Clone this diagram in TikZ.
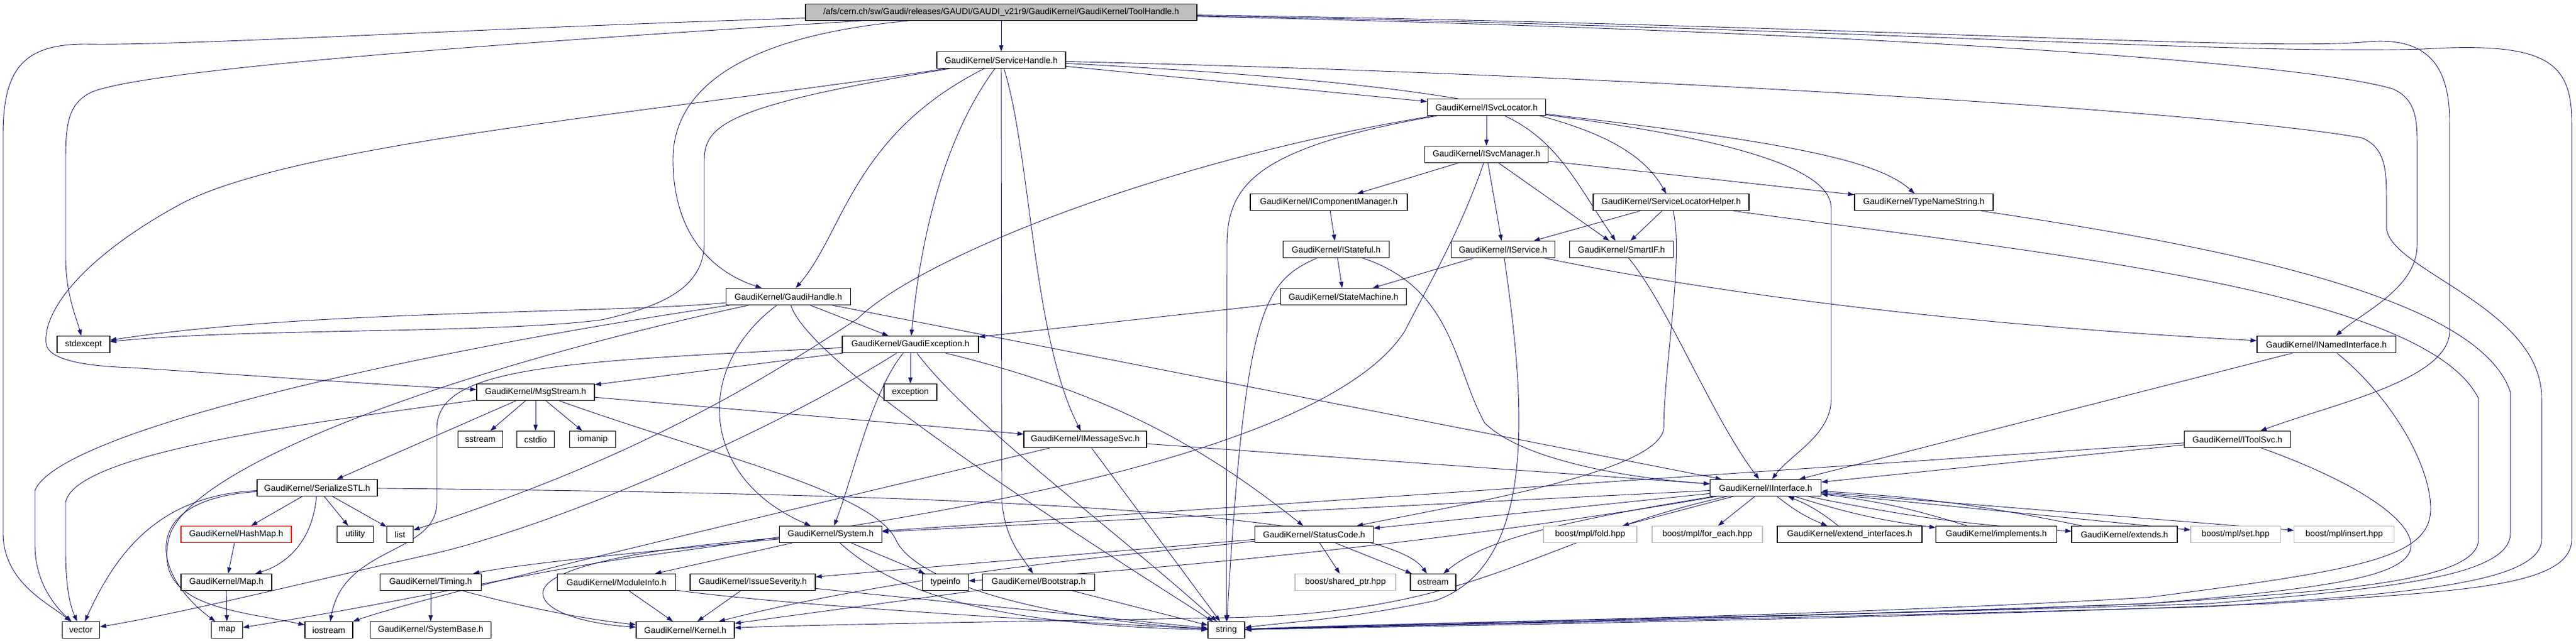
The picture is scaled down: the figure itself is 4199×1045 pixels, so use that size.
\documentclass[tikz,border=0pt]{standalone}
\usepackage{fontspec}
\setmainfont{Liberation Sans}
\usetikzlibrary{arrows.meta}
\definecolor{edgeblue}{RGB}{25,25,112}
\definecolor{boxgray}{RGB}{191,191,191}
\pgfdeclarelayer{bg}
\pgfdeclarelayer{edges}
\pgfsetlayers{bg,edges,main}

\begin{document}
\begin{tikzpicture}[x=1pt,y=-1pt,
  hdr/.style={draw=black, line width=1.1pt, fill=white, minimum width=#1pt,
    minimum height=27pt, inner sep=0pt, font=\fontsize{14}{16}\selectfont},
  focus/.style={hdr=#1, fill=boxgray},
  sysinc/.style={hdr=#1, draw=boxgray},
  missing/.style={hdr=#1, draw=red},
  dep/.style={edgeblue, line width=0.9pt, -{Triangle[length=10pt,width=7pt]}}]

  \begin{pgfonlayer}{bg}
    \fill[white] (0,0) rectangle (4199,1045);
  \end{pgfonlayer}
  \useasboundingbox (0,0) rectangle (4199,1045);

  % Headers, top rows
  \node[focus=638] (tool) at (1632,20) {/afs/cern.ch/sw/Gaudi/releases/GAUDI/GAUDI\_v21r9/GaudiKernel/GaudiKernel/ToolHandle.h};
  \node[hdr=210] (svch) at (1632,98) {GaudiKernel/ServiceHandle.h};
  \node[hdr=193] (isl) at (2423,175) {GaudiKernel/ISvcLocator.h};
  \node[hdr=201] (ism) at (2423,252) {GaudiKernel/ISvcManager.h};
  \node[hdr=256] (icm) at (2166,330) {GaudiKernel/IComponentManager.h};
  \node[hdr=254] (slh) at (2724,330) {GaudiKernel/ServiceLocatorHelper.h};
  \node[hdr=226] (tns) at (3136,330) {GaudiKernel/TypeNameString.h};
  \node[hdr=173] (istf) at (2178,407) {GaudiKernel/IStateful.h};
  \node[hdr=169] (isvc) at (2450,407) {GaudiKernel/IService.h};
  \node[hdr=169] (sif) at (2643,407) {GaudiKernel/SmartIF.h};
  \node[hdr=203] (gh) at (1285,484) {GaudiKernel/GaudiHandle.h};
  \node[hdr=205] (stm) at (2190,484) {GaudiKernel/StateMachine.h};

  % Middle rows
  \node[hdr=86] (stdx) at (136,562) {stdexcept};
  \node[hdr=222] (gex) at (1484,562) {GaudiKernel/GaudiException.h};
  \node[hdr=226] (ni) at (3792,562) {GaudiKernel/INamedInterface.h};
  \node[hdr=192] (msg) at (873,640) {GaudiKernel/MsgStream.h};
  \node[hdr=86] (exc) at (1484,640) {exception};
  \node[hdr=73] (sst) at (783,717) {sstream};
  \node[hdr=61] (cst) at (873,717) {cstdio};
  \node[hdr=75] (iom) at (966,717) {iomanip};
  \node[hdr=200] (ims) at (1769,717) {GaudiKernel/IMessageSvc.h};
  \node[hdr=173] (its) at (3647,717) {GaudiKernel/IToolSvc.h};
  \node[hdr=196] (ser) at (517,796) {GaudiKernel/SerializeSTL.h};
  \node[hdr=181] (ii) at (2878,796) {GaudiKernel/IInterface.h};

  % Lower rows
  \node[missing=180] (hm) at (385,872) {GaudiKernel/HashMap.h};
  \node[hdr=59] (util) at (579,872) {utility};
  \node[hdr=43] (lst) at (652,872) {list};
  \node[hdr=167] (sys) at (1354,872) {GaudiKernel/System.h};
  \node[hdr=193] (sc) at (2142,872) {GaudiKernel/StatusCode.h};
  \node[sysinc=152] (fold) at (2592,872) {boost/mpl/fold.hpp};
  \node[sysinc=180] (fe) at (2783,872) {boost/mpl/for\_each.hpp};
  \node[hdr=236] (ei) at (3015,872) {GaudiKernel/extend\_interfaces.h};
  \node[hdr=197] (impl) at (3254,872) {GaudiKernel/implements.h};
  \node[hdr=172] (ext) at (3463,872) {GaudiKernel/extends.h};
  \node[sysinc=146] (mset) at (3644,872) {boost/mpl/set.hpp};
  \node[sysinc=163] (mins) at (3821,872) {boost/mpl/insert.hpp};
  \node[hdr=148] (maph) at (369,950) {GaudiKernel/Map.h};
  \node[hdr=165] (tim) at (702,950) {GaudiKernel/Timing.h};
  \node[hdr=193] (mi) at (1005,950) {GaudiKernel/ModuleInfo.h};
  \node[hdr=204] (iss) at (1227,950) {GaudiKernel/IssueSeverity.h};
  \node[hdr=75] (ti) at (1541,950) {typeinfo};
  \node[hdr=183] (bs) at (1693,950) {GaudiKernel/Bootstrap.h};
  \node[sysinc=164] (shp) at (2193,950) {boost/shared\_ptr.hpp};
  \node[hdr=74] (ost) at (2336,950) {ostream};
  \node[hdr=61] (vec) at (132,1028) {vector};
  \node[hdr=51] (mp) at (370,1028) {map};
  \node[hdr=78] (ios) at (536,1028) {iostream};
  \node[hdr=197] (sb) at (702,1028) {GaudiKernel/SystemBase.h};
  \node[hdr=160] (ker) at (1117,1028) {GaudiKernel/Kernel.h};
  \node[hdr=60] (str) at (1999,1028) {string};

  \begin{pgfonlayer}{edges}
  % ToolHandle.h
  \draw[dep] (tool) -- (svch);
  \draw[dep] (tool) .. controls (1200,60) and (1097,150) .. (1097,260) .. controls (1097,400) and (1180,450) .. (gh);
  \draw[dep] (tool) .. controls (800,45) and (300,75) .. (140,72) .. controls (40,72) and (5,110) .. (5,220) -- (5,870) .. controls (5,950) and (80,985) .. (vec);
  \draw[dep] (tool) .. controls (900,65) and (250,110) .. (150,150) .. controls (112,168) and (107,200) .. (107,260) -- (107,420) .. controls (107,480) and (125,520) .. (stdx);
  \draw[dep] (tool) .. controls (3000,40) and (3700,85) .. (3860,68) .. controls (3960,60) and (3993,110) .. (3993,200) -- (3993,540) .. controls (3993,620) and (3800,660) .. (its);
  \draw[dep] (tool) .. controls (3000,45) and (3650,90) .. (3950,80) .. controls (4150,68) and (4192,100) .. (4192,200) -- (4192,880) .. controls (4192,960) and (4000,965) .. (3700,985) .. controls (3100,1010) and (2300,1022) .. (str);
  \draw[dep] (tool) .. controls (3000,50) and (3750,100) .. (3900,145) .. controls (3935,160) and (3940,190) .. (3940,230) -- (3940,400) .. controls (3940,470) and (3850,510) .. (ni);

  % ServiceHandle.h
  \draw[dep] (svch) .. controls (1390,220) and (1375,380) .. (gh);
  \draw[dep] (svch) .. controls (1520,250) and (1495,450) .. (gex);
  \draw[dep] (svch) -- (1633,820) .. controls (1640,880) and (1660,900) .. (bs);
  \draw[dep] (svch) .. controls (1680,250) and (1683,550) .. (ims);
  \draw[dep] (svch) .. controls (1100,180) and (500,230) .. (300,330) .. controls (150,410) and (70,500) .. (75,560) .. controls (78,590) and (150,598) .. (215,600) .. controls (400,612) and (650,630) .. (msg);
  \draw[dep] (svch) .. controls (1200,170) and (1148,200) .. (1148,260) -- (1148,400) .. controls (1145,470) and (1080,500) .. (980,522) .. controls (800,545) and (400,535) .. (stdx);
  \draw[dep] (svch) -- (isl);
  \draw[dep] (svch) .. controls (2450,140) and (2650,200) .. (slh);
  \draw[dep] (svch) .. controls (2600,120) and (3600,180) .. (3850,225) .. controls (3885,240) and (3890,270) .. (3890,320) -- (3890,370) .. controls (3890,440) and (4143,500) .. (4143,650) -- (4143,880) .. controls (4143,955) and (3900,970) .. (3600,990) .. controls (2900,1010) and (2300,1020) .. (str);

  % GaudiHandle.h
  \draw[dep] (gh) .. controls (1000,512) and (500,505) .. (stdx);
  \draw[dep] (gh) .. controls (700,570) and (100,700) .. (57,800) -- (57,890) .. controls (57,950) and (90,990) .. (vec);
  \draw[dep] (gh) .. controls (750,600) and (300,760) .. (275,880) .. controls (250,990) and (380,995) .. (ios);
  \draw[dep] (gh) .. controls (1130,600) and (1140,780) .. (sys);
  \draw[dep] (gh) .. controls (1320,600) and (1800,900) .. (str);
  \draw[dep] (gh) -- (gex);
  \draw[dep] (gh) -- (ii);

  % ISvcLocator.h, ISvcManager.h and friends
  \draw[dep] (isl) -- (ism);
  \draw[dep] (isl) .. controls (2540,230) and (2570,300) .. (sif);
  \draw[dep] (isl) .. controls (2900,230) and (3060,260) .. (tns);
  \draw[dep] (isl) .. controls (2850,230) and (2985,280) .. (2985,340) -- (2985,650) .. controls (2985,710) and (2920,740) .. (ii);
  \draw[dep] (isl) .. controls (2050,240) and (2000,300) .. (2000,400) -- (str);
  \draw[dep] (isl) .. controls (1900,260) and (1500,420) .. (1398,520) .. controls (1200,650) and (1000,760) .. (lst);
  \draw[dep] (ism) -- (icm);
  \draw[dep] (ism) -- (isvc);
  \draw[dep] (ism) -- (sif);
  \draw[dep] (ism) -- (tns);
  \draw[dep] (ism) .. controls (2380,380) and (2320,480) .. (2290,540) .. controls (2150,760) and (1400,860) .. (1050,907) .. controls (850,935) and (700,975) .. (mp);
  \draw[dep] (icm) -- (istf);
  \draw[dep] (istf) -- (stm);
  \draw[dep] (istf) .. controls (2370,470) and (2370,600) .. (2420,690) .. controls (2480,750) and (2650,780) .. (ii);
  \draw[dep] (istf) .. controls (2060,460) and (2030,500) .. (str);
  \draw[dep] (isvc) -- (stm);
  \draw[dep] (isvc) .. controls (2800,480) and (3200,530) .. (ni);
  \draw[dep] (isvc) .. controls (2485,650) and (2510,920) .. (2340,980) .. controls (2200,1010) and (2100,1015) .. (str);
  \draw[dep] (sif) .. controls (2720,500) and (2790,680) .. (ii);
  \draw[dep] (slh) -- (isvc);
  \draw[dep] (slh) -- (sif);
  \draw[dep] (slh) .. controls (2745,420) and (2712,600) .. (2712,700) .. controls (2700,770) and (2400,820) .. (sc);
  \draw[dep] (slh) .. controls (3300,410) and (3950,470) .. (4040,650) -- (4040,880) .. controls (4040,950) and (3800,965) .. (3500,985) .. controls (2900,1010) and (2300,1018) .. (str);
  \draw[dep] (tns) .. controls (3600,400) and (4040,480) .. (4092,640) -- (4092,870) .. controls (4092,940) and (3900,960) .. (3600,985) .. controls (3000,1005) and (2300,1016) .. (str);
  \draw[dep] (stm) -- (gex);

  % INamedInterface.h, IToolSvc.h
  \draw[dep] (ni) -- (ii);
  \draw[dep] (ni) .. controls (3900,650) and (3962,760) .. (3962,830) .. controls (3962,910) and (3850,930) .. (3500,975) .. controls (2900,1010) and (2300,1015) .. (str);
  \draw[dep] (its) -- (ii);
  \draw[dep] (its) -- (sys);
  \draw[dep] (its) .. controls (3850,790) and (3930,850) .. (3930,890) .. controls (3930,940) and (3800,960) .. (3500,985) .. controls (2900,1008) and (2300,1020) .. (str);

  % IInterface.h
  \draw[dep] (ii) -- (sys);
  \draw[dep] (ii) -- (sc);
  \draw[dep] (ii) .. controls (2550,850) and (2420,880) .. (ost);
  \draw[dep] (ii) .. controls (2400,880) and (1900,930) .. (ti);
  \draw[dep] (ii) .. controls (2500,880) and (2420,1000) .. (2000,1008) .. controls (1600,1015) and (1300,1020) .. (ker);
  \draw[dep] (ii) -- (fold);
  \draw[dep] (ii) -- (fe);
  \draw[dep] (ii) to[bend right=8] (ei);
  \draw[dep] (ei) to[bend right=8] (ii);
  \draw[dep] (ii) to[bend right=5] (impl);
  \draw[dep] (impl) to[bend right=5] (ii);
  \draw[dep] (ii) to[bend right=4] (ext);
  \draw[dep] (ext) to[bend right=4] (ii);
  \draw[dep] (ii) -- (mset);
  \draw[dep] (ii) -- (mins);

  % GaudiException.h
  \draw[dep] (gex) -- (exc);
  \draw[dep] (gex) -- (msg);
  \draw[dep] (gex) .. controls (1420,640) and (1390,780) .. (sys);
  \draw[dep] (gex) .. controls (1800,640) and (1950,720) .. (sc);
  \draw[dep] (gex) .. controls (1580,690) and (1800,850) .. (str);
  \draw[dep] (gex) .. controls (900,590) and (712,600) .. (712,700) -- (712,820) .. controls (712,905) and (560,890) .. (ios);
  \draw[dep] (gex) .. controls (1250,710) and (900,860) .. (700,905) .. controls (520,945) and (300,1000) .. (vec);

  % MsgStream.h, IMessageSvc.h
  \draw[dep] (msg) -- (sst);
  \draw[dep] (msg) -- (cst);
  \draw[dep] (msg) -- (iom);
  \draw[dep] (msg) -- (ser);
  \draw[dep] (msg) -- (ims);
  \draw[dep] (msg) .. controls (500,690) and (120,740) .. (107,820) -- (107,900) .. controls (107,960) and (115,990) .. (vec);
  \draw[dep] (msg) .. controls (1150,740) and (1420,800) .. (1460,880) .. controls (1490,950) and (1700,1010) .. (str);
  \draw[dep] (ims) -- (ii);
  \draw[dep] (ims) -- (str);
  \draw[dep] (ims) .. controls (1300,830) and (700,970) .. (ios);

  % SerializeSTL.h and below
  \draw[dep] (ser) -- (hm);
  \draw[dep] (ser) .. controls (510,880) and (470,920) .. (maph);
  \draw[dep] (ser) -- (util);
  \draw[dep] (ser) -- (lst);
  \draw[dep] (ser) .. controls (260,808) and (190,900) .. (vec);
  \draw[dep] (ser) .. controls (220,815) and (250,940) .. (mp);
  \draw[dep] (ser) .. controls (1500,805) and (2250,830) .. (ost);
  \draw[dep] (hm) -- (maph);
  \draw[dep] (maph) -- (mp);
  \draw[dep] (tim) -- (sb);
  \draw[dep] (tim) .. controls (850,990) and (950,1010) .. (ker);

  % System.h
  \draw[dep] (sys) -- (mi);
  \draw[dep] (sys) -- (ti);
  \draw[dep] (sys) .. controls (1450,960) and (1600,1020) .. (str);
  \draw[dep] (sys) .. controls (1050,900) and (850,920) .. (tim);
  \draw[dep] (sys) .. controls (1100,890) and (880,920) .. (885,970) .. controls (890,1005) and (980,1020) .. (ker);

  % bottom rows
  \draw[dep] (mi) -- (ker);
  \draw[dep] (mi) .. controls (1300,990) and (1750,1015) .. (str);
  \draw[dep] (iss) -- (ker);
  \draw[dep] (iss) -- (str);
  \draw[dep] (bs) -- (ker);
  \draw[dep] (bs) -- (str);
  \draw[dep] (sc) -- (iss);
  \draw[dep] (sc) .. controls (1900,900) and (1500,930) .. (ker);
  \draw[dep] (sc) -- (shp);
  \draw[dep] (sc) -- (ost);
  \end{pgfonlayer}

\end{tikzpicture}
\end{document}
